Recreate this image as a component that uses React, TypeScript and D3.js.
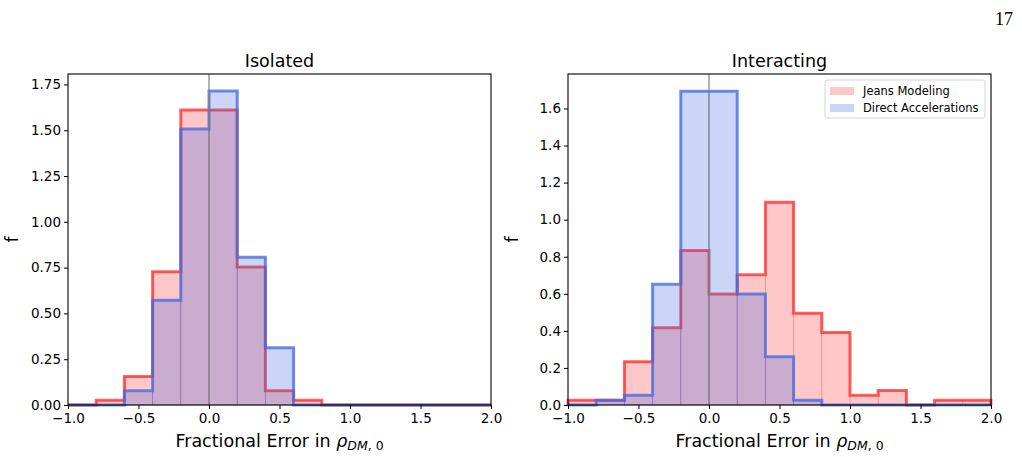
import React, { useEffect, useRef } from 'react';
import * as d3 from 'd3';

const binEdges = [-1.0, -0.8, -0.6, -0.4, -0.2, 0.0, 0.2, 0.4, 0.6, 0.8, 1.0, 1.2, 1.4, 1.6, 1.8, 2.0];

const isolatedJeans = [0, 0.026, 0.156, 0.728, 1.61, 1.61, 0.754, 0.078, 0.026, 0, 0, 0, 0, 0, 0];
const isolatedDirect = [0, 0, 0.078, 0.572, 1.507, 1.714, 0.806, 0.312, 0, 0, 0, 0, 0, 0, 0];

const interactingJeans = [0.026, 0.026, 0.234, 0.417, 0.834, 0.599, 0.703, 1.094, 0.495, 0.391, 0.052, 0.078, 0, 0.026, 0.026];
const interactingDirect = [0, 0.026, 0.052, 0.651, 1.693, 1.693, 0.599, 0.26, 0.026, 0, 0, 0, 0, 0, 0];

const xTicks = [-1.0, -0.5, 0.0, 0.5, 1.0, 1.5, 2.0];
const isolatedYTicks = [0, 0.25, 0.5, 0.75, 1.0, 1.25, 1.5, 1.75];
const interactingYTicks = [0, 0.2, 0.4, 0.6, 0.8, 1.0, 1.2, 1.4, 1.6];

const seriesNames = ['Jeans Modeling', 'Direct Accelerations'];

const FONT = 'DejaVu Sans, sans-serif';
const RED_FILL = 'rgba(255,0,0,0.22)';
const RED_LINE = 'rgba(255,0,0,0.6)';
const BLUE_FILL = 'rgba(65,105,225,0.28)';
const BLUE_LINE = 'rgba(65,105,225,0.75)';

type PanelProps = {
  left: number;
  title: string;
  jeans: number[];
  direct: number[];
  yMax: number;
  yTicks: number[];
  yFormat: string;
  legend?: boolean;
};

const Panel = ({ left, title, jeans, direct, yMax, yTicks, yFormat, legend }: PanelProps) => {
  const ref = useRef<SVGGElement>(null);

  useEffect(() => {
    const g = d3.select(ref.current);
    g.selectAll('*').remove();

    const width = 423;
    const top = 74;
    const bottom = 405;

    const x = d3.scaleLinear().domain([-1, 2]).range([left, left + width]);
    const y = d3.scaleLinear().domain([0, yMax]).range([bottom, top]);

    const drawHist = (vals: number[], fill: string, stroke: string) => {
      g.append('g')
        .selectAll('rect')
        .data(vals)
        .enter()
        .append('rect')
        .attr('x', (d, i) => x(binEdges[i]))
        .attr('width', (d, i) => x(binEdges[i + 1]) - x(binEdges[i]))
        .attr('y', d => y(d))
        .attr('height', d => bottom - y(d))
        .attr('fill', fill)
        .attr('stroke', fill)
        .attr('stroke-width', 0.7);

      const pts: [number, number][] = [[binEdges[0], 0]];
      vals.forEach((v, i) => {
        pts.push([binEdges[i], v]);
        pts.push([binEdges[i + 1], v]);
      });
      pts.push([binEdges[binEdges.length - 1], 0]);

      const line = d3.line<[number, number]>()
        .x(d => x(d[0]))
        .y(d => y(d[1]));

      g.append('path')
        .attr('d', line(pts))
        .attr('fill', 'none')
        .attr('stroke', stroke)
        .attr('stroke-width', 3)
        .attr('stroke-linejoin', 'miter');
    };

    drawHist(jeans, RED_FILL, RED_LINE);
    drawHist(direct, BLUE_FILL, BLUE_LINE);

    // zero reference line
    g.append('line')
      .attr('x1', x(0)).attr('x2', x(0))
      .attr('y1', top).attr('y2', bottom)
      .attr('stroke', 'rgba(128,128,128,0.6)')
      .attr('stroke-width', 2);

    // frame
    g.append('rect')
      .attr('x', left).attr('y', top)
      .attr('width', width).attr('height', bottom - top)
      .attr('fill', 'none')
      .attr('stroke', '#000')
      .attr('stroke-width', 1.1);

    const xAxis = g.append('g')
      .attr('transform', `translate(0,${bottom})`)
      .call(d3.axisBottom(x).tickValues(xTicks).tickFormat(d3.format('.1f')).tickSize(4).tickPadding(4));
    xAxis.select('.domain').remove();

    const yAxis = g.append('g')
      .attr('transform', `translate(${left},0)`)
      .call(d3.axisLeft(y).tickValues(yTicks).tickFormat(d3.format(yFormat)).tickSize(4).tickPadding(3));
    yAxis.select('.domain').remove();

    g.selectAll('.tick text')
      .attr('font-family', FONT)
      .attr('font-size', 13.5)
      .attr('fill', '#000');
    g.selectAll('.tick line').attr('stroke', '#000').attr('stroke-width', 1);

    g.append('text')
      .attr('x', left + width / 2)
      .attr('y', 67)
      .attr('text-anchor', 'middle')
      .attr('font-family', FONT)
      .attr('font-size', 17.5)
      .text(title);

    const xl = g.append('text')
      .attr('x', left + width / 2)
      .attr('y', 447)
      .attr('text-anchor', 'middle')
      .attr('font-family', FONT)
      .attr('font-size', 17.5);
    xl.append('tspan').text('Fractional Error in ');
    xl.append('tspan').attr('font-style', 'italic').text('ρ');
    xl.append('tspan').attr('font-style', 'italic').attr('font-size', 12.5).attr('dy', 3).text('DM');
    xl.append('tspan').attr('font-size', 12.5).text(', 0');

    g.append('text')
      .attr('transform', `translate(${left - 50},${(top + bottom) / 2}) rotate(-90)`)
      .attr('text-anchor', 'middle')
      .attr('font-family', FONT)
      .attr('font-size', 17.5)
      .text('f');

    if (legend) {
      const lx = left + width - 166;
      const ly = 80;
      const lg = g.append('g');
      lg.append('rect')
        .attr('x', lx).attr('y', ly)
        .attr('width', 160).attr('height', 38)
        .attr('rx', 2.5)
        .attr('fill', 'rgba(255,255,255,0.8)')
        .attr('stroke', '#d5d5d5');
      const fills = [RED_FILL, BLUE_FILL];
      seriesNames.forEach((name, i) => {
        lg.append('rect')
          .attr('x', lx + 5).attr('y', ly + 7 + i * 17)
          .attr('width', 24).attr('height', 8)
          .attr('fill', fills[i]);
        lg.append('text')
          .attr('x', lx + 38).attr('y', ly + 15 + i * 17)
          .attr('font-family', FONT)
          .attr('font-size', 11.5)
          .text(name);
      });
    }
  }, [left, title, jeans, direct, yMax, yTicks, yFormat, legend]);

  return <g ref={ref}></g>;
};

const App = () => {
  return (
    <svg width={1022} height={457} style={{ position: 'absolute', left: 0, top: 0, background: '#fff' }}>
      <text x={1013} y={25} textAnchor="end" fontFamily="Liberation Serif, serif" fontSize={18}>17</text>
      <Panel left={68} title="Isolated" jeans={isolatedJeans} direct={isolatedDirect}
        yMax={1.807} yTicks={isolatedYTicks} yFormat=".2f" />
      <Panel left={568} title="Interacting" jeans={interactingJeans} direct={interactingDirect}
        yMax={1.786} yTicks={interactingYTicks} yFormat=".1f" legend />
    </svg>
  );
};

export default App;
